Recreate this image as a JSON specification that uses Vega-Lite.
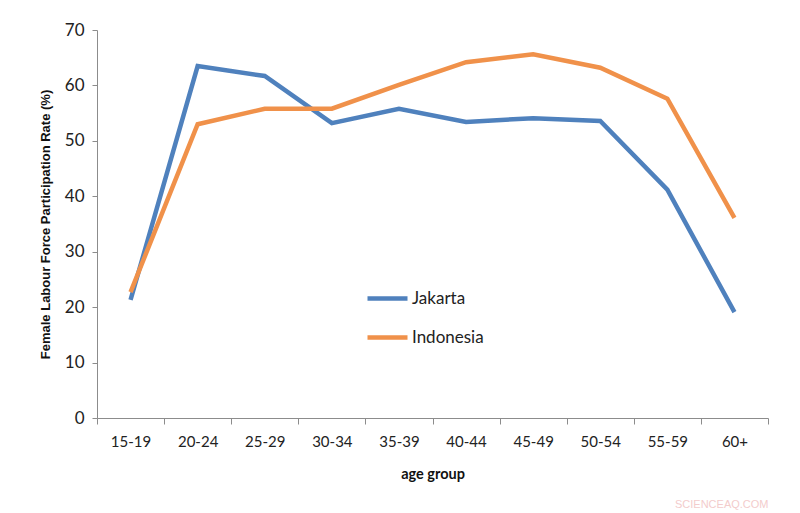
{
  "$schema": "https://vega.github.io/schema/vega-lite/v6.json",
  "width": 671,
  "height": 388,
  "autosize": {"type": "none"},
  "padding": {"left": 97, "top": 30, "right": 32, "bottom": 95},
  "background": "white",
  "title": {
    "text": "SCIENCEAQ.COM",
    "orient": "bottom",
    "anchor": "end",
    "offset": 18,
    "font": "Liberation Sans",
    "fontSize": 11,
    "fontWeight": "normal",
    "color": "#f3cccc"
  },
  "config": {
    "view": {"stroke": null},
    "axis": {
      "domainColor": "#8c8c8c",
      "tickColor": "#8c8c8c",
      "grid": false,
      "labelFont": "Lato",
      "labelColor": "#222222",
      "titleColor": "#111111"
    }
  },
  "data": {
    "values": [
      {"age": "15-19", "region": "Jakarta", "rate": 21.3},
      {"age": "20-24", "region": "Jakarta", "rate": 63.5},
      {"age": "25-29", "region": "Jakarta", "rate": 61.7},
      {"age": "30-34", "region": "Jakarta", "rate": 53.2},
      {"age": "35-39", "region": "Jakarta", "rate": 55.8},
      {"age": "40-44", "region": "Jakarta", "rate": 53.4},
      {"age": "45-49", "region": "Jakarta", "rate": 54.1},
      {"age": "50-54", "region": "Jakarta", "rate": 53.6},
      {"age": "55-59", "region": "Jakarta", "rate": 41.2},
      {"age": "60+", "region": "Jakarta", "rate": 19.1},
      {"age": "15-19", "region": "Indonesia", "rate": 22.7},
      {"age": "20-24", "region": "Indonesia", "rate": 53.0},
      {"age": "25-29", "region": "Indonesia", "rate": 55.8},
      {"age": "30-34", "region": "Indonesia", "rate": 55.8},
      {"age": "35-39", "region": "Indonesia", "rate": 60.1},
      {"age": "40-44", "region": "Indonesia", "rate": 64.2},
      {"age": "45-49", "region": "Indonesia", "rate": 65.6},
      {"age": "50-54", "region": "Indonesia", "rate": 63.2},
      {"age": "55-59", "region": "Indonesia", "rate": 57.6},
      {"age": "60+", "region": "Indonesia", "rate": 36.1}
    ]
  },
  "mark": {"type": "line", "strokeWidth": 4.5, "strokeJoin": "miter"},
  "encoding": {
    "x": {
      "field": "age",
      "type": "ordinal",
      "sort": null,
      "scale": {"type": "band", "paddingInner": 0, "paddingOuter": 0},
      "axis": {
        "title": "age group",
        "labelAngle": 0,
        "tickBand": "extent",
        "tickSize": 6,
        "labelFontSize": 15,
        "labelPadding": 10,
        "titleFont": "Lato",
        "titleFontSize": 14.5,
        "titleFontWeight": "bold",
        "titlePadding": 18
      }
    },
    "y": {
      "field": "rate",
      "type": "quantitative",
      "scale": {"domain": [0, 70]},
      "axis": {
        "title": "Female Labour Force Participation Rate (%)",
        "values": [0, 10, 20, 30, 40, 50, 60, 70],
        "tickSize": 5,
        "labelFontSize": 17,
        "labelPadding": 8,
        "titleFont": "Liberation Sans",
        "titleFontSize": 13,
        "titleFontWeight": "bold",
        "titlePadding": 12
      }
    },
    "color": {
      "field": "region",
      "type": "nominal",
      "scale": {"domain": ["Jakarta", "Indonesia"], "range": ["#4f81bd", "#f0914a"]},
      "legend": {
        "title": null,
        "orient": "none",
        "legendX": 268,
        "legendY": 246,
        "symbolType": "stroke",
        "symbolSize": 1600,
        "symbolStrokeWidth": 4.5,
        "rowPadding": 7,
        "labelFont": "Lato",
        "labelFontSize": 17,
        "labelColor": "#222222",
        "labelOffset": 2
      }
    },
    "order": {"field": "region", "sort": "descending"}
  }
}
